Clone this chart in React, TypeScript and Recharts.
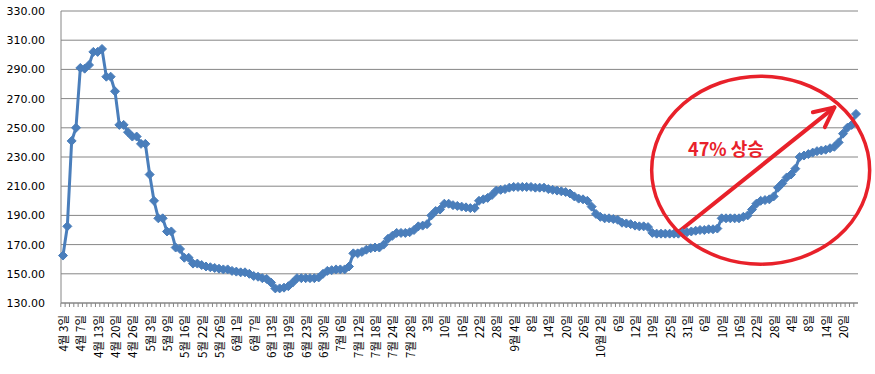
import { LineChart, Line, XAxis, YAxis, CartesianGrid, ReferenceDot, ReferenceLine } from "recharts";

// 일별 가격 (4월 3일 ~ 12월 하순), 4개 포인트마다 날짜 라벨
const prices = [
  162.5, 182.5, 241, 250, 291, 290.5, 293, 302, 302, 304,
  285, 285, 275, 252, 252, 247, 244, 244, 239, 239,
  218, 200, 188, 188, 179, 179, 168, 167, 161, 161,
  157, 157, 156, 155, 154.5, 154, 153.5, 153, 153, 152,
  151.5, 151, 151, 150, 148.5, 148, 147, 146.5, 144, 140,
  140, 140.5, 141.5, 144, 147, 147, 147, 147, 147, 147.5,
  150, 152, 152.5, 153, 153, 153, 155, 164, 164, 165,
  166.5, 167.5, 168, 168, 170, 174, 176, 178, 178, 178,
  178.5, 180, 182.5, 183, 184, 190, 193, 194, 198, 198,
  197, 196.5, 196, 195.5, 195, 195, 200, 201, 202, 204,
  207, 207.5, 208, 209, 209.5, 209.5, 209.5, 209.5, 209.5, 209,
  209, 209, 208, 207.5, 207, 206.5, 206, 205, 203, 201.5,
  201, 200, 196, 191, 189, 188, 188, 187.5, 187, 185,
  184.5, 184, 183, 182.5, 182.5, 182, 178, 177.5, 177.5, 177.5,
  177.5, 177.5, 177.5, 178, 178.5, 179, 179.5, 180, 180, 180.5,
  180.5, 181, 188, 188, 188, 188, 188, 189, 190, 194,
  198, 200, 200.5, 201, 203, 209, 212, 216, 218, 222,
  230, 231, 232, 233, 234, 234.5, 235, 236, 237, 240,
  246, 250, 252, 259.5,
];

const tickLabels = [
  "4월 3일", "4월 7일", "4월 13일", "4월 20일", "4월 26일",
  "5월 3일", "5월 9일", "5월 16일", "5월 22일", "5월 26일",
  "6월 1일", "6월 7일", "6월 13일", "6월 19일", "6월 23일", "6월 30일",
  "7월 6일", "7월 12일", "7월 18일", "7월 24일", "7월 28일",
  "3일", "10일", "16일", "22일", "28일",
  "9월 4일", "8일", "14일", "20일", "26일",
  "10월 2일", "6일", "12일", "19일", "25일", "31일",
  "6일", "10일", "16일", "22일", "28일",
  "4일", "8일", "14일", "20일",
];
const labelEvery = 4;

const yTicks = [130, 150, 170, 190, 210, 230, 250, 270, 290, 310, 330];

const data = prices.map((v, i) => ({ i, v }));

const BLUE = "#4A7EBB";
const RED = "#E8212A";
const GRID = "#868686";

function Diamond(props: any) {
  const { cx, cy } = props;
  if (cx == null || cy == null) return null;
  const s = 4.5;
  return (
    <path
      d={`M${cx},${cy - s}L${cx + s},${cy}L${cx},${cy + s}L${cx - s},${cy}Z`}
      fill={BLUE}
      stroke={BLUE}
      strokeWidth={1}
    />
  );
}

function DateTick(props: any) {
  const { x, y, payload } = props;
  const i = payload.value as number;
  const label = i % labelEvery === 0 ? tickLabels[i / labelEvery] : null;
  return (
    <g>
      <line x1={x - 2.2} x2={x - 2.2} y1={y} y2={y + 4} stroke={GRID} />
      {label && (
        <text
          x={x}
          y={y + 12}
          transform={`rotate(-90 ${x} ${y + 12})`}
          textAnchor="end"
          dominantBaseline="central"
          fontSize={11.5}
          fontFamily="'Noto Sans CJK KR', sans-serif"
          fill="#000"
        >
          {label}
        </text>
      )}
    </g>
  );
}

function Ellipse(props: any) {
  const { cx, cy } = props;
  return <ellipse cx={cx} cy={cy} rx={109} ry={94} fill="none" stroke={RED} strokeWidth={3.5} />;
}

function Arrow(props: any) {
  const { x1, y1, x2, y2 } = props;
  const ang = Math.atan2(y2 - y1, x2 - x1);
  const len = 22;
  const spread = 0.45;
  const ax = x2 - len * Math.cos(ang - spread);
  const ay = y2 - len * Math.sin(ang - spread);
  const bx = x2 - len * Math.cos(ang + spread);
  const by = y2 - len * Math.sin(ang + spread);
  return (
    <g stroke={RED} strokeWidth={4} fill="none" strokeLinecap="round" strokeLinejoin="round">
      <line x1={x1} y1={y1} x2={x2} y2={y2} />
      <polyline points={`${ax},${ay} ${x2},${y2} ${bx},${by}`} />
    </g>
  );
}

function Note(props: any) {
  const { cx, cy } = props;
  return (
    <text
      x={cx}
      y={cy}
      textAnchor="middle"
      dominantBaseline="central"
      fontSize={18}
      fontWeight="bold"
      fontFamily="'Noto Sans CJK KR', sans-serif"
      fill={RED}
    >
      47% 상승
    </text>
  );
}

export default function App() {
  return (
    <div style={{ position: "absolute", left: 0, top: 0 }}>
      <LineChart
        width={875}
        height={374}
        data={data}
        margin={{ top: 11, right: 17, left: 0, bottom: 0 }}
      >
        <CartesianGrid vertical={false} stroke={GRID} />
        <XAxis
          dataKey="i"
          type="category"
          interval={0}
          height={71}
          padding={{ left: 2, right: 2 }}
          tickSize={0}
          tickMargin={0}
          tickLine={false}
          axisLine={{ stroke: GRID }}
          tick={<DateTick />}
        />
        <YAxis
          domain={[130, 330]}
          ticks={yTicks}
          width={61}
          tickLine={false}
          tickMargin={10}
          axisLine={{ stroke: GRID }}
          tickFormatter={(v: number) => v.toFixed(2)}
          tick={{ fontSize: 11, fill: "#000", fontFamily: "'DejaVu Sans', sans-serif" }}
        />
        <Line
          dataKey="v"
          stroke={BLUE}
          strokeWidth={3}
          dot={<Diamond />}
          isAnimationActive={false}
        />
        <ReferenceDot x={161} y={221} ifOverflow="visible" shape={<Ellipse />} />
        <ReferenceLine
          segment={[{ x: 142, y: 178.6 }, { x: 178, y: 264 }]}
          ifOverflow="visible"
          shape={<Arrow />}
        />
        <ReferenceDot x={153} y={236} ifOverflow="visible" shape={<Note />} />
      </LineChart>
    </div>
  );
}
